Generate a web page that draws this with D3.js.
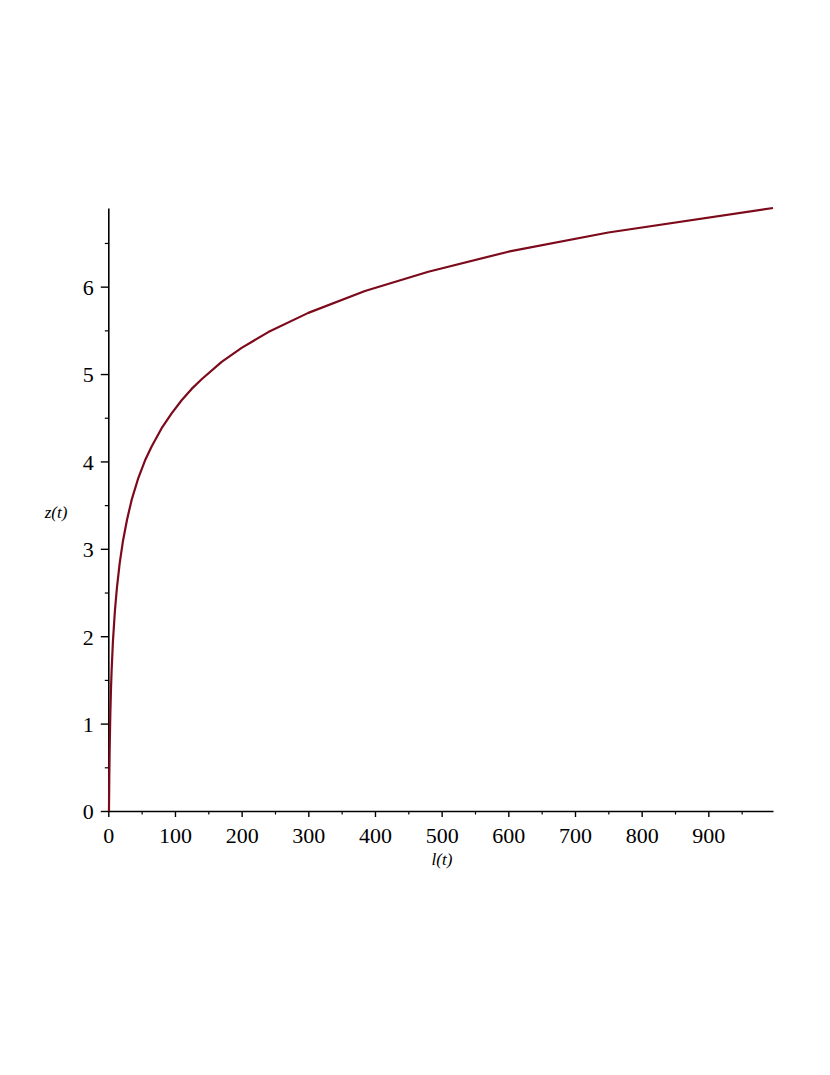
<!DOCTYPE html>
<html>
<head>
<meta charset="utf-8">
<script src="https://cdn.jsdelivr.net/npm/d3@7"></script>
<style>
html,body{margin:0;padding:0;background:#fff;}
svg{display:block;}
</style>
</head>
<body>
<svg id="chart" width="830" height="1075"></svg>
<script>
// data
const lValues = [1, 1.5, 2, 3, 4, 5, 7, 10, 13, 17, 22, 28, 35, 45, 55, 65, 80, 95, 110, 125, 140, 170, 200, 240, 300, 385, 480, 600, 750, 997];
const zValues = [0, 0.4, 0.69, 1.1, 1.39, 1.61, 1.95, 2.3, 2.56, 2.83, 3.09, 3.33, 3.56, 3.81, 4.01, 4.17, 4.38, 4.55, 4.7, 4.83, 4.94, 5.14, 5.3, 5.48, 5.7, 5.95, 6.17, 6.4, 6.62, 6.9];
const xMajorTicks = [0, 100, 200, 300, 400, 500, 600, 700, 800, 900];
const xMinorTicks = [50, 150, 250, 350, 450, 550, 650, 750, 850, 950];
const yMajorTicks = [0, 1, 2, 3, 4, 5, 6];
const yMinorTicks = [0.5, 1.5, 2.5, 3.5, 4.5, 5.5, 6.5];
const xLabel = "l(t)";
const yLabel = "z(t)";

const svg = d3.select("#chart");
const x = d3.scaleLinear().domain([0, 997]).range([108.3, 773]);
const y = d3.scaleLinear().domain([0, 6.9]).range([811, 208]);

const font = "'Liberation Serif','Times New Roman',serif";

// minor ticks
svg.append("g").attr("transform", `translate(0,${y(0)})`)
  .call(d3.axisBottom(x).tickValues(xMinorTicks).tickSize(3.5).tickFormat("").tickSizeOuter(0))
  .call(g => g.select(".domain").remove())
  .call(g => g.selectAll("line").attr("stroke", "#000").attr("stroke-width", 1.2));
svg.append("g").attr("transform", `translate(${x(0)},0)`)
  .call(d3.axisLeft(y).tickValues(yMinorTicks).tickSize(3.5).tickFormat("").tickSizeOuter(0))
  .call(g => g.select(".domain").remove())
  .call(g => g.selectAll("line").attr("stroke", "#000").attr("stroke-width", 1.2));

// major axes
const gx = svg.append("g").attr("transform", `translate(0,${y(0)})`)
  .call(d3.axisBottom(x).tickValues(xMajorTicks).tickSize(6).tickPadding(10).tickSizeOuter(0).tickFormat(d3.format("d")));
gx.select(".domain").attr("stroke", "#000").attr("stroke-width", 1.6);
gx.selectAll("line").attr("stroke", "#000").attr("stroke-width", 1.4);
gx.selectAll("text").attr("font-family", font).attr("font-size", 22).attr("fill", "#000");

const gy = svg.append("g").attr("transform", `translate(${x(0)},0)`)
  .call(d3.axisLeft(y).tickValues(yMajorTicks).tickSize(7.5).tickPadding(7).tickSizeOuter(0).tickFormat(d3.format("d")));
gy.select(".domain").attr("stroke", "#000").attr("stroke-width", 1.6);
gy.selectAll("line").attr("stroke", "#000").attr("stroke-width", 1.4);
gy.selectAll("text").attr("font-family", font).attr("font-size", 22).attr("fill", "#000").attr("dy", "0.36em");

// curve
const pts = lValues.map((l, i) => [l, zValues[i]]);
svg.append("path").datum(pts)
  .attr("fill", "none")
  .attr("stroke", "#7c0a1a")
  .attr("stroke-width", 2.2)
  .attr("stroke-linejoin", "round")
  .attr("d", d3.line().x(d => x(d[0])).y(d => y(d[1])));

// axis labels
svg.append("text").attr("x", 442).attr("y", 865).attr("text-anchor", "middle")
  .attr("font-family", font).attr("font-style", "italic").attr("font-size", 17).text(xLabel);
svg.append("text").attr("x", 56).attr("y", 518).attr("text-anchor", "middle")
  .attr("font-family", font).attr("font-style", "italic").attr("font-size", 17).text(yLabel);
</script>
</body>
</html>
